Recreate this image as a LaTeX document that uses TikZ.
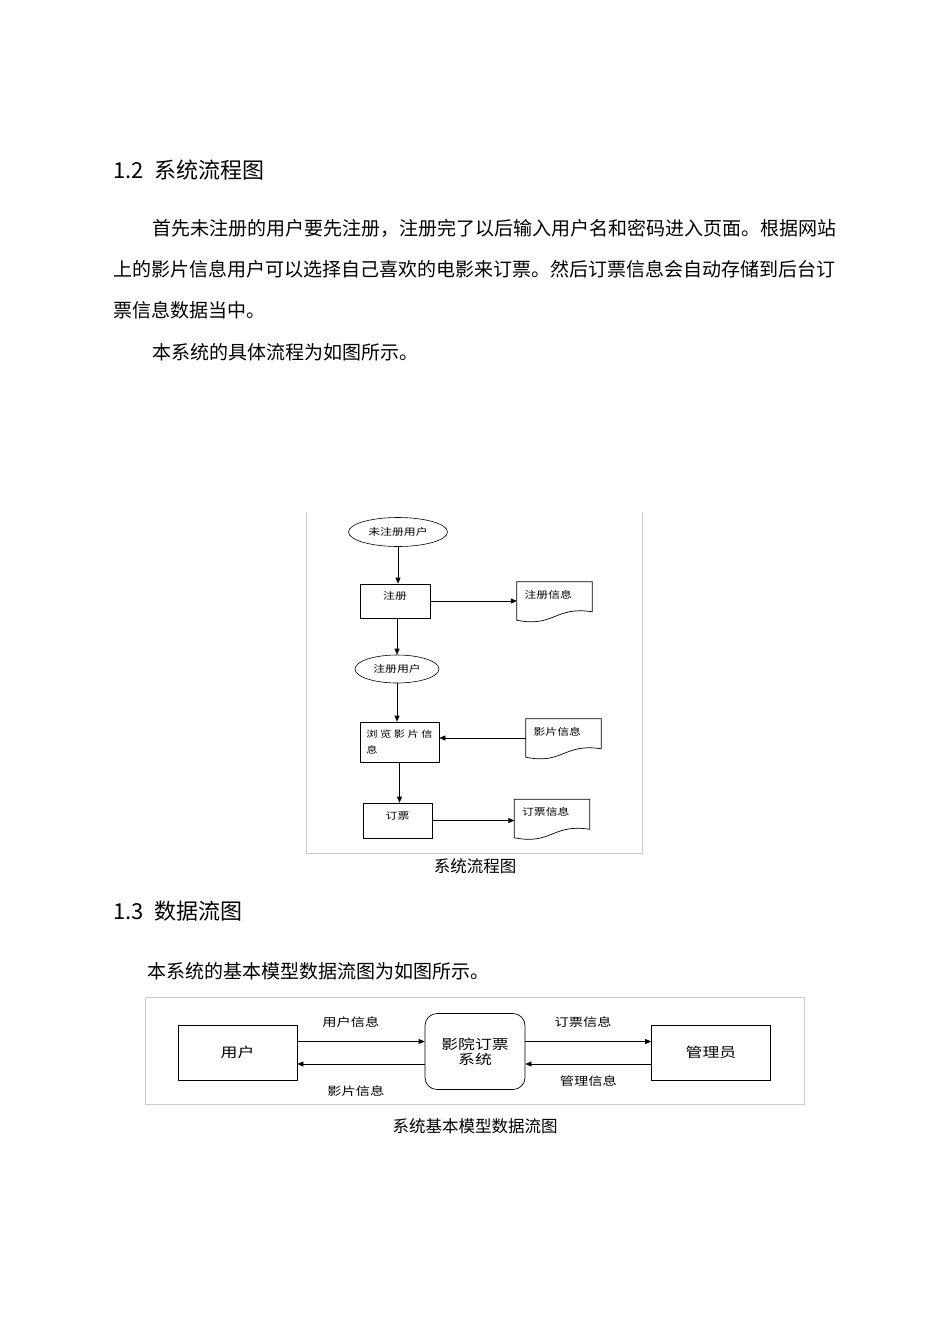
\documentclass[tikz,border=0pt]{standalone}
\usepackage{fontspec}
\setmainfont{Noto Sans CJK SC}
\newfontfamily\diagfont[FakeStretch=1.25]{Noto Sans CJK SC}
\usetikzlibrary{shapes.geometric, arrows.meta, calc}

\tikzset{
	headtext/.style={anchor=west, inner sep=0pt, font=\fontsize{22}{22}\selectfont},
	bodytext/.style={anchor=west, inner sep=0pt, font=\fontsize{19}{19}\selectfont},
	captext/.style={inner sep=0pt, font=\fontsize{16.5}{16.5}\selectfont},
	frameline/.style={draw=gray!40, line width=0.8pt},
	flowfont/.style={font=\diagfont\fontsize{9.5}{16}\selectfont},
	termbox/.style={draw, ellipse, flowfont, inner sep=0pt, line width=0.6pt},
	procbox/.style={draw, rectangle, flowfont, inner sep=0pt, line width=0.7pt, text height=8pt, text depth=11pt},
	browsebox/.style={draw, rectangle, inner sep=0pt, line width=0.7pt, minimum width=79pt, minimum height=40pt, align=left, font=\diagfont\fontsize{9}{16}\selectfont},
	docbox/.style={rectangle, flowfont, inner sep=0pt, minimum width=75pt, minimum height=38pt, text width=60pt, align=left, text height=8pt, text depth=14pt},
	flow/.style={-{Triangle[length=6pt,width=5pt]}, line width=0.7pt},
	dfdbox/.style={draw, rectangle, minimum width=119pt, minimum height=55pt, line width=0.7pt, font=\diagfont\fontsize{13.5}{15}\selectfont},
	dfdlabel/.style={inner sep=0pt, font=\diagfont\fontsize{11.4}{12}\selectfont},
}

\begin{document}
\begin{tikzpicture}[x=1pt, y=-1pt]

	\path[use as bounding box, fill=white] (0,0) rectangle (950,1344);

	\node[headtext] (head12) at (113,170) {1.2\hspace{11pt}系统流程图};
	\node[bodytext] (para1) at (152,228) {首先未注册的用户要先注册，注册完了以后输入用户名和密码进入页面。根据网站};
	\node[bodytext] (para2) at (113,269) {上的影片信息用户可以选择自己喜欢的电影来订票。然后订票信息会自动存储到后台订};
	\node[bodytext] (para3) at (113,310) {票信息数据当中。};
	\node[bodytext] (para4) at (152,352) {本系统的具体流程为如图所示。};

	\draw[frameline] (306,512) -- (306,853) -- (642,853) -- (642,512);

	\node[termbox, minimum width=99pt, minimum height=29pt] (unreg) at (398,532) {未注册用户};
	\node[procbox, minimum width=70pt, minimum height=34pt] (register) at (395,601) {注册};
	\node[docbox] (reginfo) at (554.5,601) {注册信息};
	\node[termbox, minimum width=84pt, minimum height=28pt] (reguser) at (397,669) {注册用户};
	\node[browsebox] (browse) at (399.5,742) {浏 览 影 片 信\\息};
	\node[docbox] (filminfo) at (563.5,738) {影片信息};
	\node[procbox, minimum width=69pt, minimum height=35pt] (order) at (397.5,820.5) {订票};
	\node[docbox] (ticketinfo) at (552,818.5) {订票信息};

	\foreach \d in {reginfo, filminfo, ticketinfo}
		\draw[line width=0.7pt] (\d.north west) -- (\d.north east) -- ($(\d.north east)+(0,30)$)
			.. controls ($(\d.north east)+(-37,24)$) and ($(\d.north west)+(37,46)$) .. (\d.south west) -- cycle;

	\draw[flow] (unreg.south) -- (unreg.south |- register.north);
	\draw[flow] (register.east) -- (reginfo.west);
	\draw[flow] (register.south -| reguser.north) -- (reguser.north);
	\draw[flow] (reguser.south) -- (reguser.south |- browse.north);
	\draw[flow] (filminfo.west) -- (filminfo.west -| browse.east);
	\draw[flow] (browse.south) -- (browse.south |- order.north);
	\draw[flow] (order.east) -- (order.east -| ticketinfo.west);

	\node[captext] (cap1) at (475,866) {系统流程图};

	\node[headtext] (head13) at (113,911) {1.3\hspace{11pt}数据流图};
	\node[bodytext] (para5) at (147,971) {本系统的基本模型数据流图为如图所示。};

	\draw[frameline] (145,997) rectangle (804,1104);

	\node[dfdbox] (user) at (237.5,1052.5) {用户};
	\node[dfdbox, minimum width=100pt, minimum height=76pt, rounded corners=12pt, align=center] (cinema) at (475,1051.5) {影院订票\\系统};
	\node[dfdbox] (admin) at (711,1052.5) {管理员};

	\draw[flow] ([yshift=11pt]user.east) -- ([yshift=11pt]user.east -| cinema.west)
		node[dfdlabel, pos=.42, above=14pt] (userinfo) {用户信息};
	\draw[flow] ([yshift=-11.5pt]user.east -| cinema.west) -- ([yshift=-11.5pt]user.east)
		node[dfdlabel, pos=.54, below=21pt] (filmdata) {影片信息};
	\draw[flow] ([yshift=11pt]admin.west -| cinema.east) -- ([yshift=11pt]admin.west)
		node[dfdlabel, pos=.46, above=14pt] (orderdata) {订票信息};
	\draw[flow] ([yshift=-11.5pt]admin.west) -- ([yshift=-11.5pt]admin.west -| cinema.east)
		node[dfdlabel, pos=.5, below=11pt] (admininfo) {管理信息};

	\node[captext] (cap2) at (475,1126) {系统基本模型数据流图};

\end{tikzpicture}
\end{document}
